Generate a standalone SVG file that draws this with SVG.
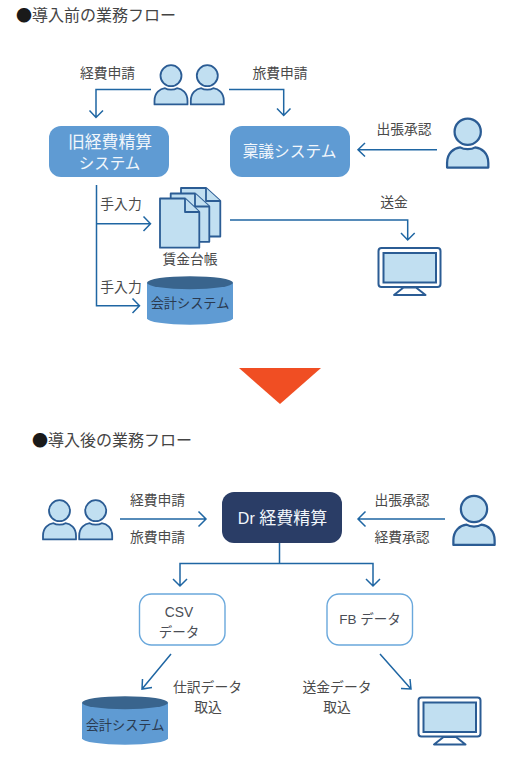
<svg xmlns="http://www.w3.org/2000/svg" width="509" height="757" viewBox="0 0 509 757">
<style>
text{font-family:"Noto Sans CJK JP","Noto Sans",sans-serif;fill:#4a4a4a;text-anchor:middle}
.t{font-size:16px;fill:#444;text-anchor:start}
.b{fill:#1a1a1a}
.l{font-size:13.800px}
.s{font-size:13.200px;fill:#2a3a50}
.w{font-size:16px;fill:#f2f7fc}
.d{font-size:13.500px;fill:#4a4e56}
.lat{font-family:"Liberation Sans",sans-serif}
.c{fill:none;stroke:#1f66a3;stroke-width:1.500}
.ic{fill:#c1dff1;stroke:#2b5c94;stroke-width:1.800;stroke-linejoin:round}
.blue{fill:#5f9bd3}
.out{fill:#fff;stroke:#6aa8dc;stroke-width:1.400}
</style>
<defs>
<symbol id="person" overflow="visible"><circle cx="0" cy="0" r="10.500" class="ic"/><path d="M-16.500 28.700V25C-16.500 17-11 13-6 12.500C-3 14.500 3 14.500 6 12.500C11 13 16.500 17 16.500 25V28.700Z" class="ic"/></symbol>
<symbol id="monitor" overflow="visible"><rect x="378.500" y="248" width="62" height="39" rx="3" fill="#fff" stroke="#2b5c94" stroke-width="2"/><rect x="383.500" y="253" width="52.500" height="29.500" fill="#c1dff1" stroke="#2b5c94" stroke-width="2"/><path d="M403.500 287.500L394 295H425.500L416 287.500Z" fill="#fff" stroke="#2b5c94" stroke-width="2" stroke-linejoin="round"/></symbol>
<symbol id="cyl" overflow="visible"><path d="M0 0V35.500A43 6.500 0 0 0 86 35.500V0Z" class="blue"/><ellipse cx="43" cy="0" rx="43" ry="6.500" fill="#39648d"/></symbol>
</defs>

<text class="t" x="16" y="21"><tspan class="b">●</tspan>導入前の業務フロー</text>
<text class="t" x="32" y="446"><tspan class="b">●</tspan>導入後の業務フロー</text>

<g id="connectors">
<path class="c" d="M151 89.500H96V117.500M89.500 110.500L96 117.500L103 110.500"/>
<path class="c" d="M229 89.500H283.700V115.500M277 108.500L283.700 115.500L290.500 108.500"/>
<path class="c" d="M437 149.700H358M365 143L358 149.700L365 156.500"/>
<path class="c" d="M96.500 185V305.700H139.500M132.500 298.500L139.500 305.700L132.500 313M96.500 223.700H150.500M143.500 216.500L150.500 223.700L143.500 231"/>
<path class="c" d="M230 220H407.700V240M401 233L407.700 240L414.700 233"/>
<path class="c" d="M120 519H206M198.500 511.500L206 519L198.500 526.500"/>
<path class="c" d="M445 519H358M365.500 511.500L358 519L365.500 526.500"/>
<path class="c" d="M279.500 543V563M180 586V563.500H373V586M173 579L180 586L187 579M366 579L373 586L380 579"/>
<path class="c" d="M171 654L142 689M142.500 679L142 689L152 687.500"/>
<path class="c" d="M380 654L411 689M401 688.500L411 689L410 679"/>
<path d="M239 368H321L280 404Z" fill="#f04e23"/>
</g>

<g id="persons-before"><use href="#person" x="171" y="75.700"/><use href="#person" x="207.300" y="75.700"/></g>
<g id="approver-before"><use href="#person" transform="translate(467.700 131.700) scale(1.250)"/></g>
<g id="node-old"><rect x="49" y="126" width="120" height="51" rx="12" class="blue"/><text class="w"><tspan x="110" y="147.500" style="font-size:16.800px">旧経費精算</tspan><tspan x="109.500" y="168.500" style="font-size:15.500px">システム</tspan></text></g>
<g id="node-ringi"><rect x="230" y="126" width="120" height="51" rx="12" class="blue"/><text class="w" x="289.500" y="157" style="font-size:15.700px">稟議システム</text></g>
<g id="node-ledger">
<path class="ic" d="M181 188H206L220.300 201V236.500H181Z"/><path class="ic" d="M206 188V201H220.300" />
<path class="ic" d="M170.700 193.500H195L209.300 206.500V241.800H170.700Z"/><path class="ic" d="M195 193.500V206.500H209.300"/>
<path class="ic" d="M160 198.500H185L199.300 212V247.700H160Z"/><path class="ic" d="M185 198.500V212H199.300"/>
</g>
<g id="node-account-before"><use href="#cyl" x="147" y="282.700"/><text class="s" x="190" y="308">会計システム</text></g>
<g id="node-monitor-before"><use href="#monitor"/></g>

<g id="persons-after"><use href="#person" x="59.500" y="510.700"/><use href="#person" x="95.700" y="510.700"/></g>
<g id="approver-after"><use href="#person" transform="translate(474 509) scale(1.250)"/></g>
<g id="node-dr"><rect x="222" y="492" width="120" height="51" rx="12" fill="#2a3d66"/><text class="w" x="282.500" y="524"><tspan class="lat" style="font-size:16px">Dr </tspan><tspan style="font-size:17px">経費精算</tspan></text></g>
<g id="node-csv"><rect x="139.500" y="594" width="85.500" height="51" rx="12" class="out"/><text class="d lat" x="179" y="617" style="font-size:13.800px">CSV</text><text class="d" x="179" y="637">データ</text></g>
<g id="node-fb"><rect x="327" y="594" width="85.500" height="51" rx="12" class="out"/><text class="d" x="370" y="624"><tspan class="lat">FB </tspan>データ</text></g>
<g id="node-account-after"><use href="#cyl" x="82" y="702.700"/><text class="s" x="125" y="730">会計システム</text></g>
<g id="node-monitor-after"><use href="#monitor" x="40" y="449.500"/></g>

<g id="labels">
<text class="l" x="107.500" y="78">経費申請</text>
<text class="l" x="280" y="78">旅費申請</text>
<text class="l" x="404" y="134">出張承認</text>
<text class="l" x="121" y="209">手入力</text>
<text class="l" x="121" y="292">手入力</text>
<text class="l" x="190" y="264">賃金台帳</text>
<text class="l" x="394" y="207">送金</text>
<text class="l" x="157.500" y="505">経費申請</text>
<text class="l" x="157.500" y="542">旅費申請</text>
<text class="l" x="402" y="505">出張承認</text>
<text class="l" x="402" y="542">経費承認</text>
<text class="l" x="207.500" y="692">仕訳データ</text>
<text class="l" x="208" y="712">取込</text>
<text class="l" x="337" y="692">送金データ</text>
<text class="l" x="337" y="712">取込</text>
</g>
</svg>
